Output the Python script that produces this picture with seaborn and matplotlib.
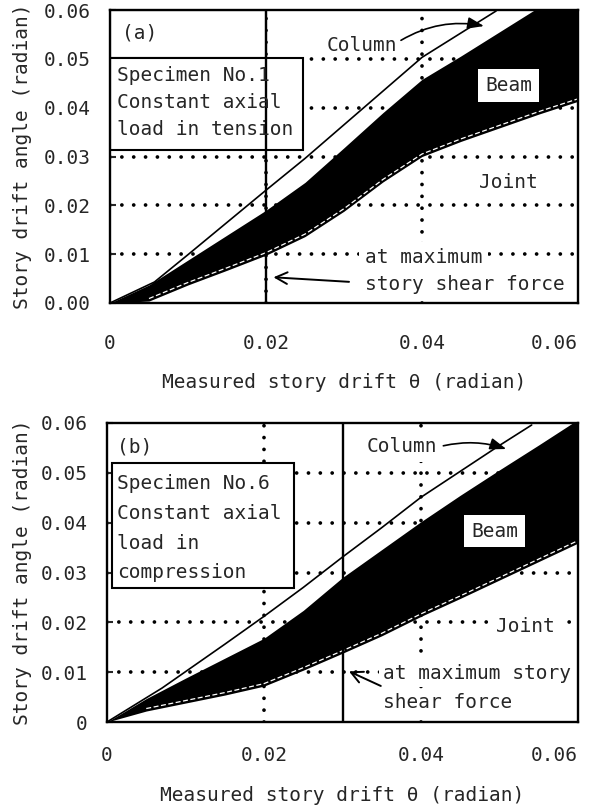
import matplotlib
matplotlib.use("Agg")
import matplotlib.pyplot as plt
import seaborn as sns
import pandas as pd
from matplotlib.patches import Rectangle
from matplotlib.transforms import offset_copy

# ---------------- data ----------------
drift = [0, 0.005, 0.01, 0.015, 0.02, 0.025, 0.03, 0.035, 0.04, 0.045, 0.05, 0.055, 0.06]

# Specimen No.1 (a)
a_joint = [0, 0.0004, 0.0037, 0.0067, 0.0098, 0.0136, 0.0188, 0.0248, 0.0300, 0.0331, 0.0359, 0.0387, 0.0413]
a_beam = [0, 0.0037, 0.0088, 0.0139, 0.0190, 0.0247, 0.0318, 0.0390, 0.0458, 0.0506, 0.0556, 0.0606, 0.0656]
a_col_x = [0, 0.0057, 0.01, 0.015, 0.02, 0.025, 0.03, 0.035, 0.04, 0.045, 0.0495]
a_col_y = [0, 0.0043, 0.0099, 0.0165, 0.0231, 0.0296, 0.0365, 0.0434, 0.0503, 0.0553, 0.0598]

# Specimen No.6 (b)
b_joint = [0, 0.0022, 0.0038, 0.0054, 0.0072, 0.0104, 0.0138, 0.0173, 0.0212, 0.0248, 0.0285, 0.0322, 0.0359]
b_beam = [0, 0.0047, 0.0088, 0.0128, 0.0168, 0.0224, 0.0290, 0.0346, 0.0402, 0.0455, 0.0506, 0.0556, 0.0607]
b_col_x = [0, 0.007, 0.01, 0.015, 0.02, 0.025, 0.03, 0.035, 0.04, 0.045, 0.05, 0.0541]
b_col_y = [0, 0.0068, 0.0101, 0.0156, 0.0212, 0.0270, 0.0331, 0.0390, 0.0451, 0.0503, 0.0555, 0.0596]

max_shear_drift = [0.02, 0.03]

x_ticks = [0, 0.02, 0.04, 0.06]
x_ticklabels = ["0", "0.02", "0.04", "0.06"]
y_ticks = [0, 0.01, 0.02, 0.03, 0.04, 0.05, 0.06]
a_y_ticklabels = ["0.00", "0.01", "0.02", "0.03", "0.04", "0.05", "0.06"]
b_y_ticklabels = ["0", "0.01", "0.02", "0.03", "0.04", "0.05", "0.06"]

panel_tags = ["(a)", "(b)"]
specimen_text = [
    ["Specimen No.1", "Constant axial", "load in tension"],
    ["Specimen No.6", "Constant axial", "load in", "compression"],
]
xlabel = "Measured story drift θ (radian)"
ylabel = "Story drift angle (radian)"

# ---------------- style ----------------
sns.set_theme(style="white")
plt.rcParams["font.family"] = ["DejaVu Sans Mono", "DejaVu Sans"]
FS = 14
plt.rcParams["font.size"] = FS

fig = plt.figure(figsize=(5.9, 8.07), dpi=100)
ax1 = fig.add_axes([110 / 590, 1 - 303 / 807, 468 / 590, 293 / 807])
ax2 = fig.add_axes([107 / 590, 1 - 722 / 807, 471 / 590, 299 / 807])

grid_kw = dict(color="black", linewidth=2.7, linestyle=(0, (0.01, 3.15)),
               dash_capstyle="round")


def base(ax, ylabels, xpad, xlab_y, ylab_x):
    ax.set_xlim(0, 0.06)
    ax.set_ylim(0, 0.06)
    ax.set_xticks(x_ticks)
    ax.set_xticklabels(x_ticklabels, fontsize=FS)
    ax.set_yticks(y_ticks)
    ax.set_yticklabels(ylabels, fontsize=FS)
    ax.get_xticklabels()[-1].set_horizontalalignment("right")
    ax.tick_params(axis="x", direction="in", length=0, pad=xpad)
    ax.tick_params(axis="y", direction="in", length=4, width=1.5, pad=14, left=True)
    ax.grid(True, **grid_kw)
    ax.set_axisbelow(True)
    # no dotted grid on the frame edges
    for axis in (ax.xaxis, ax.yaxis):
        ticks = axis.get_major_ticks()
        ticks[0].gridline.set_visible(False)
        ticks[-1].gridline.set_visible(False)
    for s in ax.spines.values():
        s.set_linewidth(1.7)
        s.set_color("black")
        s.set_zorder(6)
    ax.set_xlabel(xlabel, fontsize=FS)
    ax.set_ylabel(ylabel, fontsize=FS)
    ax.xaxis.set_label_coords(0.5, xlab_y)
    ax.xaxis.label.set_va("center")
    ax.yaxis.set_label_coords(ylab_x, 0.5)
    ax.yaxis.label.set_va("center")


def band(ax, joint, beam, colx, coly):
    ax.fill_between(drift, joint, beam, color="black", lw=0, zorder=2)
    off = offset_copy(ax.transData, fig=fig, x=0, y=2.5, units="dots")
    ax.plot(drift[1:], joint[1:], color="white", lw=0.9, ls=(0, (4, 2)),
            transform=off, zorder=2.5)
    df = pd.DataFrame({"x": colx, "y": coly})
    sns.lineplot(data=df, x="x", y="y", ax=ax, color="black", lw=1.2,
                 sort=False, estimator=None, zorder=3)


# ---------------- panel (a) ----------------
base(ax1, a_y_ticklabels, 22, -0.272, -0.188)
band(ax1, a_joint, a_beam, a_col_x, a_col_y)
ax1.axvline(max_shear_drift[0], color="black", lw=1.7, zorder=5)
ax1.add_patch(Rectangle((0, 0.0502), 0.02, 0.0098, fc="white", ec="black", lw=1.5, zorder=4))
ax1.add_patch(Rectangle((0, 0.0313), 0.0247, 0.0189, fc="white", ec="black", lw=1.5, zorder=4))
ax1.text(0.0015, 0.0552, panel_tags[0], fontsize=FS, va="center", ha="left", zorder=5)
for i, line in enumerate(specimen_text[0]):
    ax1.text(0.0009, 0.0466 - i * 0.0055, line, fontsize=FS, va="center", ha="left", zorder=5)
ax1.text(0.0323, 0.0528, "Column", fontsize=FS, va="center", ha="center", zorder=5)
ax1.annotate("", xy=(0.0483, 0.0566), xytext=(0.0370, 0.0535),
             arrowprops=dict(arrowstyle="-|>,head_length=0.7,head_width=0.25",
                             color="black", lw=1.2,
                             connectionstyle="arc3,rad=-0.2"), zorder=5)
ax1.text(0.0511, 0.0446, "Beam", fontsize=FS, va="center", ha="center", zorder=5,
         bbox=dict(boxstyle="square,pad=0.35", fc="white", ec="none"))
ax1.text(0.0511, 0.0246, "Joint", fontsize=FS, va="center", ha="center", zorder=5)
ax1.text(0.0327, 0.0093, "at maximum", fontsize=FS, va="center", ha="left", zorder=5,
         bbox=dict(boxstyle="square,pad=0.3", fc="white", ec="none"))
ax1.text(0.0327, 0.0037, "story shear force", fontsize=FS, va="center", ha="left", zorder=5,
         bbox=dict(boxstyle="square,pad=0.2", fc="white", ec="none"))
ax1.annotate("", xy=(0.0206, 0.0053), xytext=(0.0310, 0.0043),
             arrowprops=dict(arrowstyle="->,head_length=0.6,head_width=0.3",
                             color="black", lw=1.4), zorder=5)

# ---------------- panel (b) ----------------
base(ax2, b_y_ticklabels, 17, -0.245, -0.18)
band(ax2, b_joint, b_beam, b_col_x, b_col_y)
ax2.axvline(max_shear_drift[1], color="black", lw=1.7, zorder=5)
ax2.add_patch(Rectangle((0.0006, 0.0269), 0.0232, 0.0251, fc="white", ec="black", lw=1.5, zorder=4))
ax2.text(0.0013, 0.0552, panel_tags[1], fontsize=FS, va="center", ha="left", zorder=5)
for i, line in enumerate(specimen_text[1]):
    ax2.text(0.0013, 0.0479 - i * 0.0060, line, fontsize=FS, va="center", ha="left", zorder=5)
ax2.text(0.0376, 0.0552, "Column", fontsize=FS, va="center", ha="center", zorder=5,
         bbox=dict(boxstyle="square,pad=0.3", fc="white", ec="none"))
ax2.annotate("", xy=(0.0512, 0.0546), xytext=(0.0425, 0.0553),
             arrowprops=dict(arrowstyle="-|>,head_length=0.7,head_width=0.25",
                             color="black", lw=1.2,
                             connectionstyle="arc3,rad=-0.15"), zorder=5)
ax2.text(0.0494, 0.0383, "Beam", fontsize=FS, va="center", ha="center", zorder=5,
         bbox=dict(boxstyle="square,pad=0.35", fc="white", ec="none"))
ax2.text(0.0533, 0.0192, "Joint", fontsize=FS, va="center", ha="center", zorder=5,
         bbox=dict(boxstyle="square,pad=0.25", fc="white", ec="none"))
ax2.text(0.0352, 0.0098, "at maximum story", fontsize=FS, va="center", ha="left", zorder=5,
         bbox=dict(boxstyle="square,pad=0.2", fc="white", ec="none"))
ax2.text(0.0352, 0.0040, "shear force", fontsize=FS, va="center", ha="left", zorder=5,
         bbox=dict(boxstyle="square,pad=0.2", fc="white", ec="none"))
ax2.annotate("", xy=(0.0305, 0.0104), xytext=(0.0352, 0.0070),
             arrowprops=dict(arrowstyle="->,head_length=0.6,head_width=0.3",
                             color="black", lw=1.4), zorder=5)

fig.savefig("out.png", dpi=100)
